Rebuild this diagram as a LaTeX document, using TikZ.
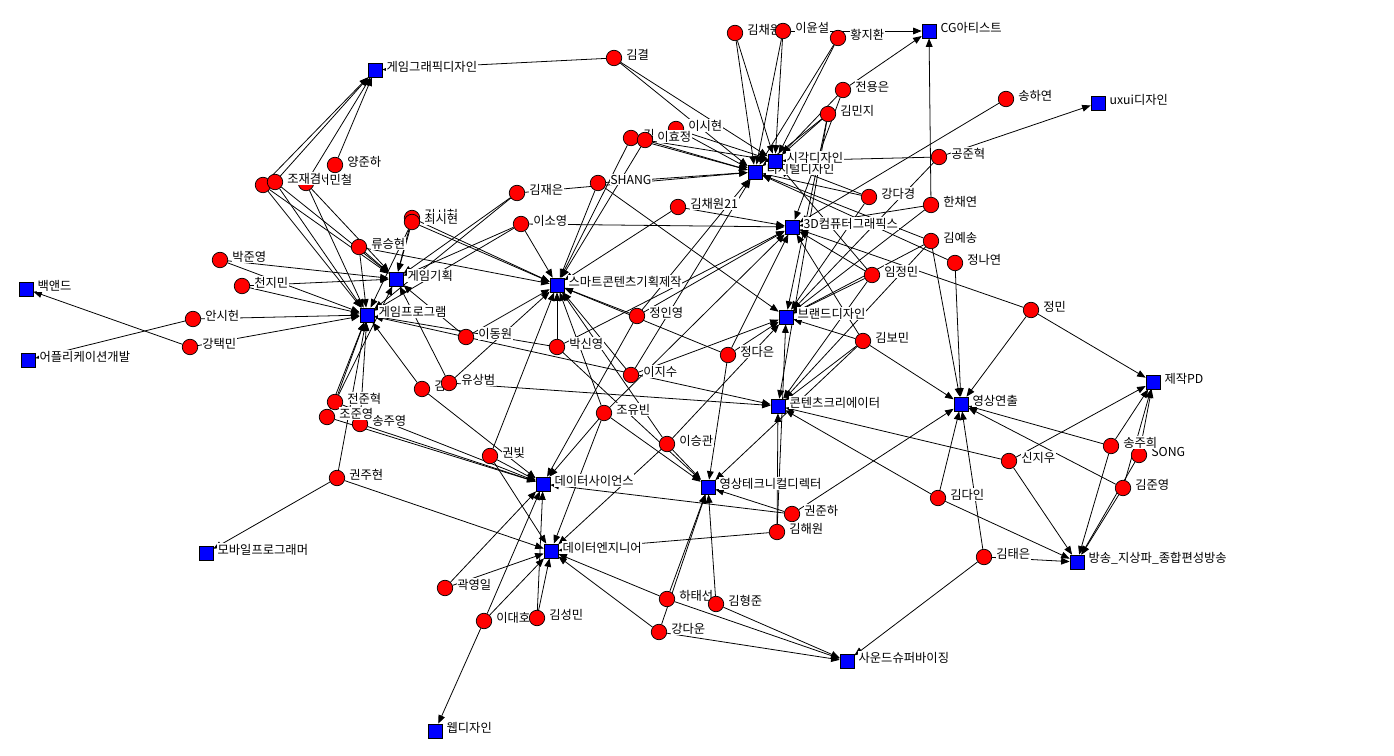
\documentclass[tikz,border=0pt]{standalone}
\usepackage{fontspec}
\newfontfamily\krfont{Noto Sans CJK KR}
\usetikzlibrary{arrows.meta, backgrounds}

\tikzset{
  job/.style={rectangle, draw=black, fill=blue, minimum size=0.28cm, inner sep=0pt},
  prs/.style={circle, draw=black, fill=red, minimum size=0.31cm, inner sep=0pt},
  lbl/.style={fill=white, inner sep=0.4pt, font=\krfont\fontsize{7}{8.5}\selectfont, yshift=0.07cm},
  link/.style={-{Triangle[length=1.7mm,width=1.35mm]}, line width=0.45pt}
}

\begin{document}
\begin{tikzpicture}[x=0.02cm, y=-0.02cm, every label/.style=lbl, label distance=1.8pt]
\useasboundingbox (0,0) rectangle (1394,756);

\foreach \n/\x/\y/\t in {gg/375/70/게임그래픽디자인, cg/929/31/CG아티스트, ux/1098/103/uxui디자인,
  dd/755/172/디지털디자인, vd/775/161/시각디자인, td/792/227/3D컴퓨터그래픽스, gp/396/279/게임기획,
  sc/557/285/스마트콘텐츠기획제작, gr/367/315/게임프로그램, bd/786/317/브랜드디자인, be/26/289/백앤드,
  ap/28/360/어플리케이션개발, cc/778/406/콘텐츠크리에이터, vm/961/404/영상연출, pd/1153/382/제작PD,
  ds/543/484/데이터사이언스, vt/708/487/영상테크니컬디렉터, de/551/551/데이터엔지니어,
  bc/1077/562/방송\_지상파\_종합편성방송, mp/206/553/모바일프로그래머, sv/847/661/사운드슈퍼바이징, wd/435/731/웹디자인}
  \node[job, label=right:\t] (\n) at (\x,\y) {};

\node[prs] (p1) at (263,185) {};
\foreach \n/\x/\y/\t in {kg/614/58/김결, kcw/735/33/김채원, lys/783/31/이윤설, hjh/838/38/황지환,
  jye/843/90/전용은, kmj/828/114/김민지, shy/1006/99/송하연, gjh/939/157/공준혁, hcy/931/205/한채연,
  kys/931/241/김예송, jny/955/263/정나연, kdg/869/197/강다경, kcw21/678/207/김채원21, lsh/676/129/이시현,
  k0/631/138/김, lhj/645/140/이효정, shang/598/183/SHANG, kje/517/193/김재은, lso/521/224/이소영,
  smc/306/183/서민철, cjg/275/182/조재겸, yjh/335/165/양준하, csh0/412/218/김시현, csh/412/222/최시현,
  rsh/359/247/류승현, pjy/220/260/박준영, cjm/242/286/천지민, ash/193/319/안시헌, ktm/190/347/강택민,
  ldw/466/337/이동원, k1/422/389/김, ysb/449/383/유상범, sjy/360/424/송주영, jjh/335/402/전준혁,
  cjy/327/417/조준영, kjh/337/478/권주현, kb/490/456/권빛, kyi/445/588/곽영일, ldh/484/621/이대호,
  ksm/537/618/김성민, jiy/637/316/정인영, psy/557/347/박신영, ljs/631/375/이지수, jde/728/355/정다은,
  cyb/604/413/조유빈, lsg/667/444/이승관, ijm/872/275/임정민, kbm/863/341/김보민, jm/1031/310/정민,
  song/1139/455/SONG, sjh/1111/446/송주희, kjy/1123/488/김준영, sjw/1009/461/신지우, kdi/938/498/김다인,
  kte/984/557/김태은, kjh2/792/514/권준하, khw/777/532/김해원, hts/667/599/하태선, khj/716/604/김형준,
  kdu/659/632/강다운}
  \node[prs, label=right:\t] (\n) at (\x,\y) {};

\begin{scope}[on background layer]
\foreach \a/\b in {kg/gg, kg/dd, kg/vd, kcw/dd, kcw/vd, lys/dd, lys/vd, lys/cg, hjh/dd, hjh/vd,
  jye/cg, jye/vd, jye/td, kmj/vd, kmj/dd, kmj/bd, kmj/cc, shy/td, gjh/ux, gjh/vd, gjh/bd,
  hcy/cg, hcy/td, hcy/bd, kys/dd, kys/vm, kys/bd, kys/cc, jny/dd, jny/vm, kdg/dd, kdg/vd, kdg/bd,
  kcw21/td, kcw21/sc, lsh/dd, lsh/vd, k0/dd, k0/sc, lhj/dd, lhj/vd, lhj/sc,
  shang/dd, shang/sc, shang/bd, kje/dd, kje/gr, kje/gp, lso/td, lso/gp, lso/gr, lso/sc,
  p1/gg, p1/gp, p1/gr, cjg/gg, cjg/gp, cjg/gr, smc/gg, smc/gp, smc/gr, yjh/gg,
  csh0/gp, csh0/sc, csh/gp, csh/gr, csh/sc, rsh/gp, rsh/gr, rsh/sc, pjy/gp, pjy/gr, cjm/gp, cjm/gr,
  ash/gr, ash/ap, ktm/gr, ktm/be, ldw/gr, ldw/gp, ldw/sc, ldw/cc, k1/gr, k1/ds, ysb/gp, ysb/sc, ysb/cc,
  jjh/gr, jjh/gp, jjh/ds, cjy/gr, cjy/ds, sjy/gr, sjy/ds, kjh/gr, kjh/mp, kjh/de, kb/ds, kb/sc, kb/de,
  kyi/de, kyi/ds, ldh/wd, ldh/de, ldh/ds, ksm/de, ksm/ds, jiy/sc, jiy/ds, jiy/dd, jiy/td,
  psy/sc, psy/gr, psy/vt, psy/td, ljs/sc, ljs/bd, ljs/dd, jde/sc, jde/vt, jde/bd, jde/td,
  cyb/sc, cyb/ds, cyb/de, cyb/vt, cyb/td, lsg/sc, lsg/vt, lsg/bd, lsg/de,
  ijm/td, ijm/bd, ijm/cc, ijm/vd, kbm/bd, kbm/vm, kbm/cc, kbm/td, kbm/vt, jm/td, jm/pd, jm/vm,
  sjh/vm, sjh/pd, sjh/bc, song/pd, song/bc, kjy/pd, kjy/vm, kjy/bc, sjw/cc, sjw/pd, sjw/bc,
  kdi/vm, kdi/cc, kdi/bc, kte/bc, kte/vm, kte/sv, kjh2/vt, kjh2/ds, kjh2/vm, khw/de, khw/cc, khw/bd,
  hts/vt, hts/de, hts/sv, khj/vt, khj/sv, kdu/de, kdu/sv, kdu/vt}
  \draw[link] (\a) -- (\b);
\end{scope}
\end{tikzpicture}
\end{document}
